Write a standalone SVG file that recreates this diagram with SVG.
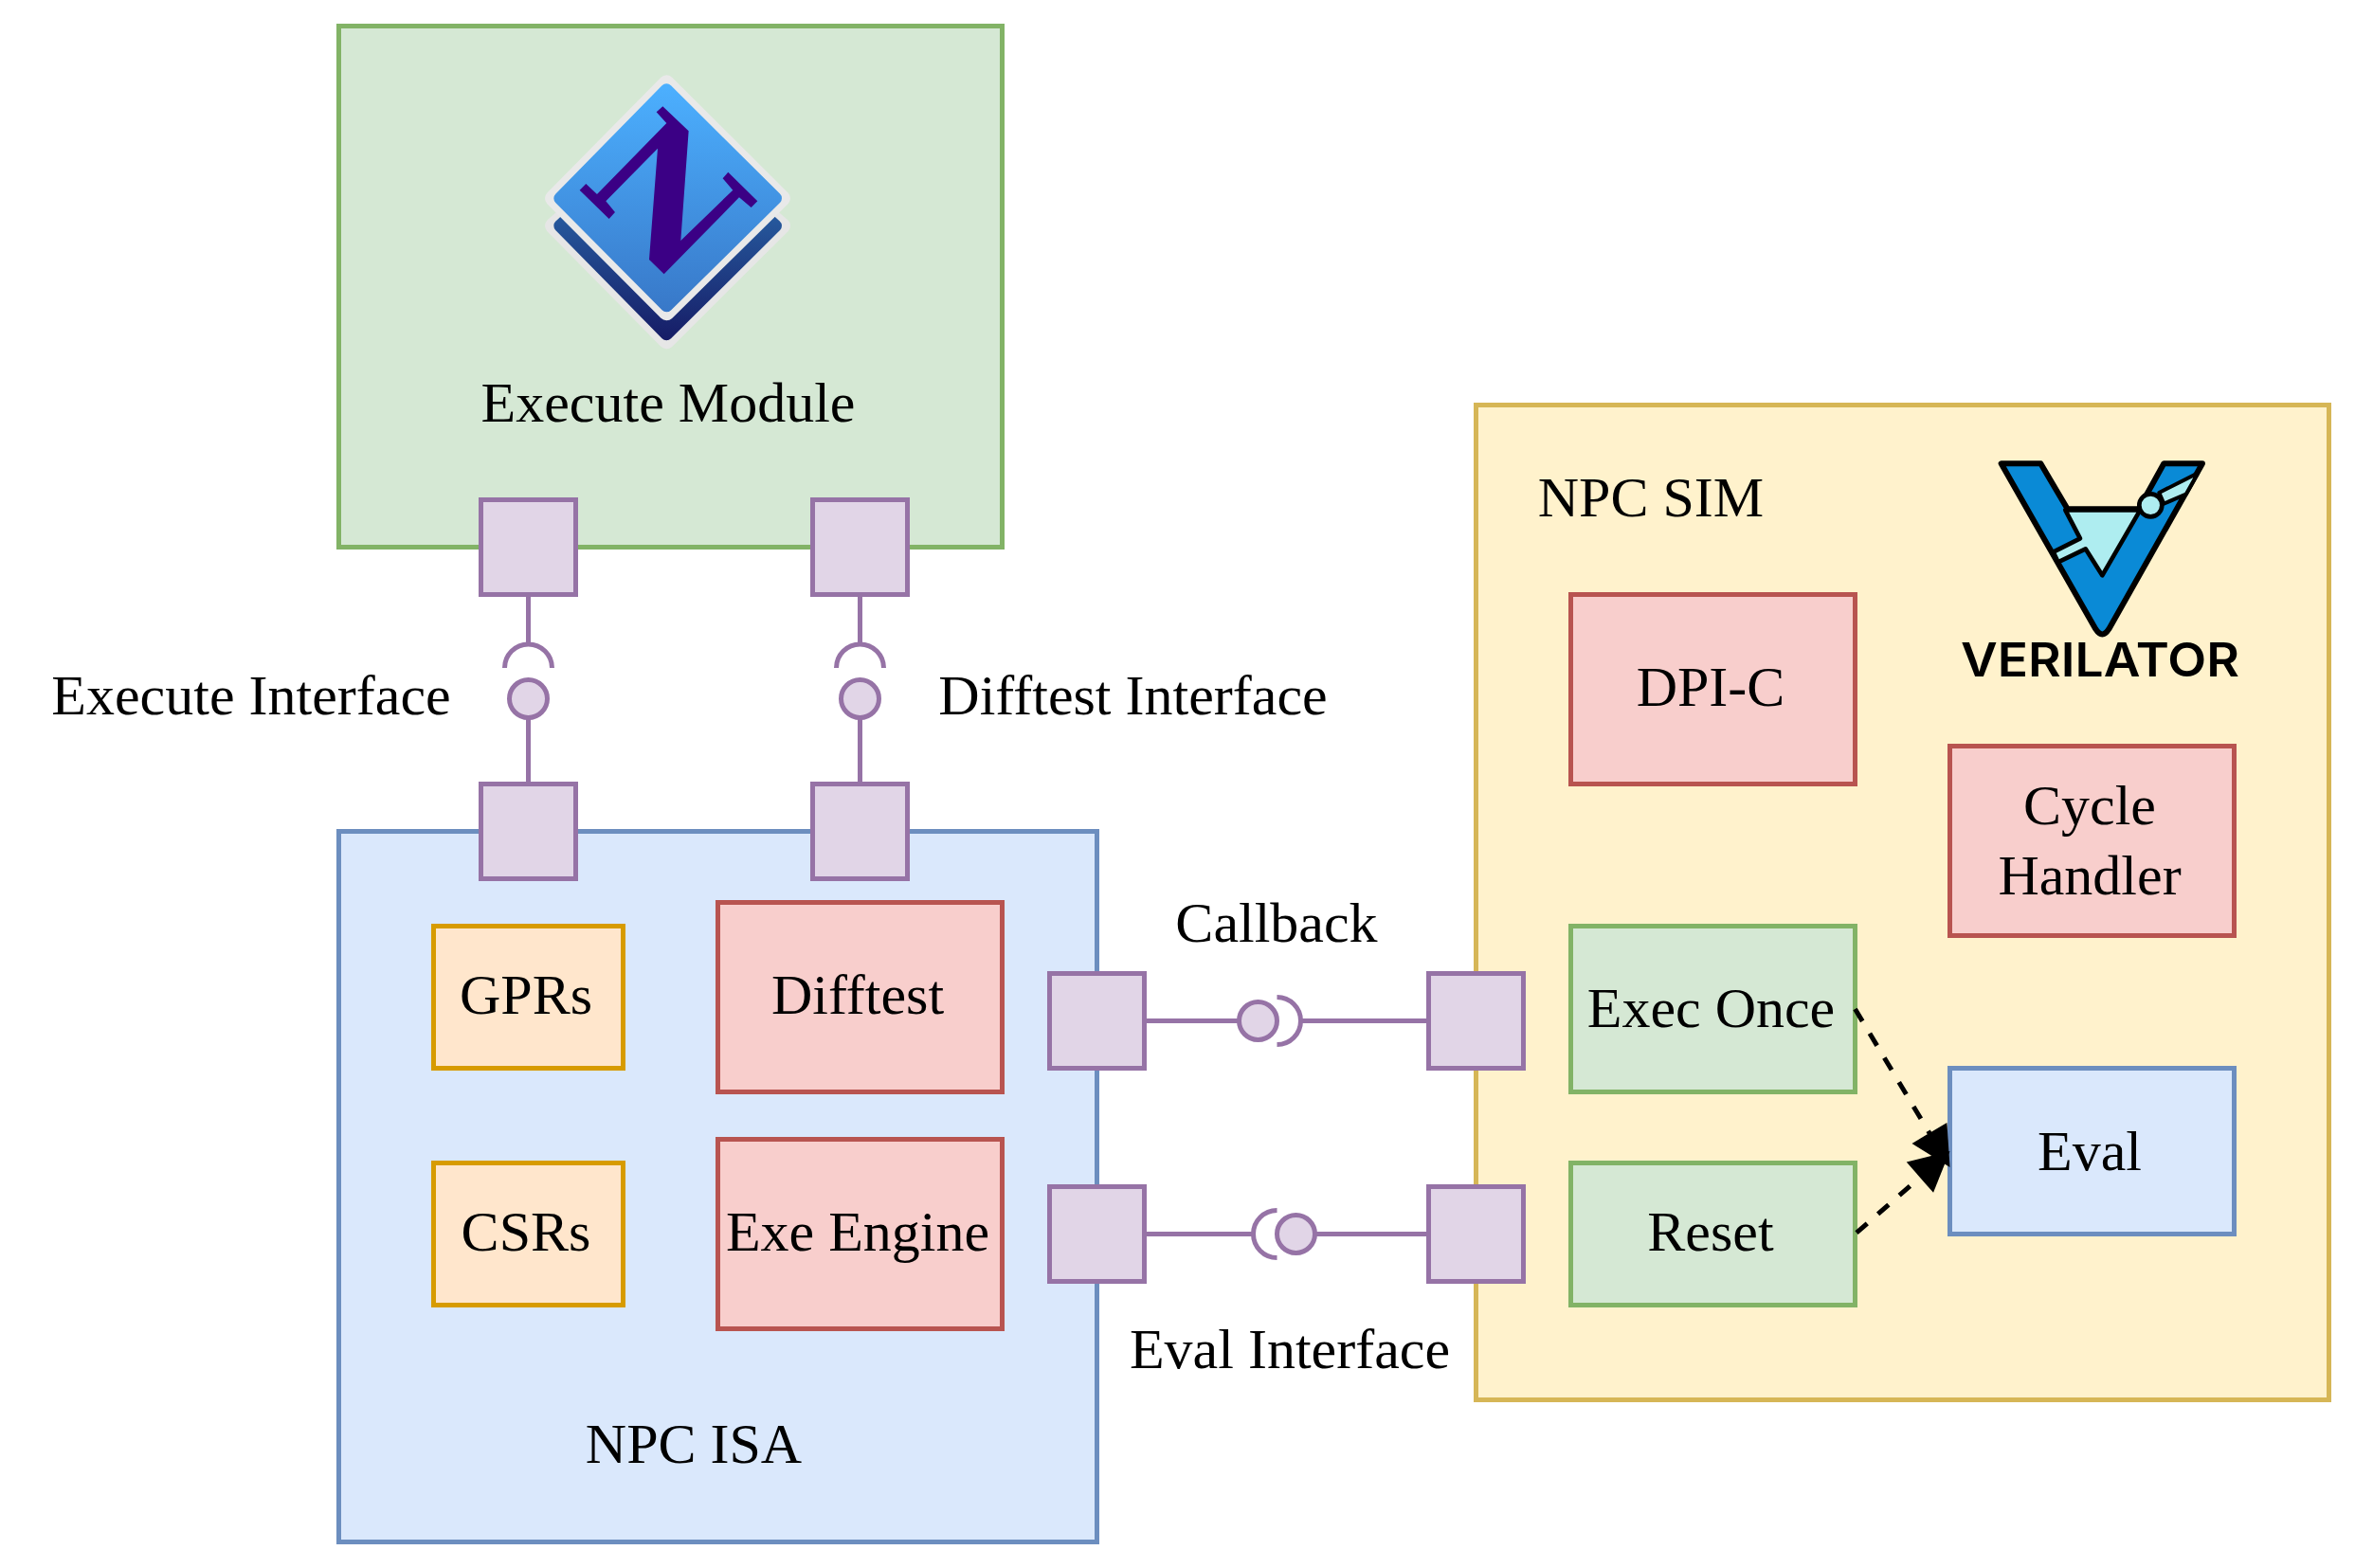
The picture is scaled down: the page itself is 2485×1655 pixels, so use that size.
<svg xmlns="http://www.w3.org/2000/svg" width="2485" height="1655" viewBox="0 0 2485 1655">
<style>
text{font-family:"Liberation Serif","Times New Roman",serif;font-size:60px;fill:#000;text-anchor:middle}
.g{fill:#d5e8d4;stroke:#82b366;stroke-width:5}
.b{fill:#dae8fc;stroke:#6c8ebf;stroke-width:5}
.y{fill:#fff2cc;stroke:#d6b656;stroke-width:5}
.r{fill:#f8cecc;stroke:#b85450;stroke-width:5}
.o{fill:#ffe6cc;stroke:#d79b00;stroke-width:5}
.p{fill:#e1d5e7;stroke:#9673a6;stroke-width:5}
.l{fill:none;stroke:#9673a6;stroke-width:5}
.d{fill:none;stroke:#000;stroke-width:5;stroke-dasharray:15 15;marker-end:url(#arrow)}
</style>
<defs>
<marker id="arrow" markerUnits="userSpaceOnUse" markerWidth="44" markerHeight="46" refX="32" refY="22.5" orient="auto" overflow="visible"><path d="M0 1L42 22.5L0 44Z" fill="#000"/></marker>
<linearGradient id="nTop" gradientUnits="userSpaceOnUse" x1="0" y1="115" x2="0" y2="838"><stop offset="0" stop-color="#4cb0ff"/><stop offset="1" stop-color="#3878c8"/></linearGradient>
<linearGradient id="nBot" gradientUnits="userSpaceOnUse" x1="0" y1="540" x2="0" y2="928"><stop offset="0" stop-color="#26589c"/><stop offset="1" stop-color="#161c66"/></linearGradient>
</defs>

<g id="execute-module"><rect class="g" x="357.5" y="27.5" width="700" height="550"/>
<g id="nemu-logo" transform="translate(540 50) scale(.3333)">
<path d="M490 250L857 565L490 930L130 565Z" fill="#e6e6e6" stroke="#e6e6e6" stroke-width="50" stroke-linejoin="round"/>
<path d="M490 250L835 565L490 908L153 565Z" fill="url(#nBot)" stroke="url(#nBot)" stroke-width="40" stroke-linejoin="round"/>
<path d="M490 113L857 478L490 840L130 478Z" fill="#e9e9e9" stroke="#e9e9e9" stroke-width="50" stroke-linejoin="round"/>
<path d="M490 135L835 478L490 818L153 478Z" fill="url(#nTop)" stroke="url(#nTop)" stroke-width="40" stroke-linejoin="round"/>
<path d="M458 205L478 187L560 265L535 612L700 452L668 415L685 395L778 487L758 507L720 475L482 718L435 672L462 320L298 487L327 522L308 543L215 452L235 432L270 465L490 240Z" fill="#3b0085"/>
</g>
<text x="705" y="445">Execute Module</text></g>

<g id="npc-isa"><rect class="b" x="357.5" y="877.5" width="800" height="750"/><text x="732" y="1544">NPC ISA</text></g>
<g id="npc-sim"><rect class="y" x="1557.5" y="427.5" width="900" height="1050"/><text x="1742" y="545">NPC SIM</text></g>

<g id="verilator-logo" transform="translate(2040 460) scale(.3333)">
<path d="M215 88L340 88L425 232L650 232L730 88L852 88L556 612Q535 645 514 612Z" fill="#0a8ad6" stroke="#000" stroke-width="18" stroke-linejoin="round"/>
<path d="M418 235L655 235L535 442L482 358L395 400L380 368L465 325Z" fill="#aeedf0" stroke="#000" stroke-width="14" stroke-linejoin="round"/>
<path d="M715 180L838 118L800 185L730 215Z" fill="#aeedf0" stroke="#000" stroke-width="12" stroke-linejoin="round"/>
<circle cx="688" cy="220" r="36" fill="#aeedf0" stroke="#000" stroke-width="14"/>
</g>
<text id="verilator-wordmark" x="2216" y="714" style="font-family:Inter,'Liberation Sans',Arial,sans-serif;font-weight:600;font-size:49px" textLength="294" lengthAdjust="spacingAndGlyphs">VERILATOR</text>

<g id="gprs"><rect class="o" x="457.5" y="977.5" width="200" height="150"/><text x="555" y="1070">GPRs</text></g>
<g id="csrs"><rect class="o" x="457.5" y="1227.5" width="200" height="150"/><text x="555" y="1320">CSRs</text></g>
<g id="difftest"><rect class="r" x="757.5" y="952.5" width="300" height="200"/><text x="905" y="1070">Difftest</text></g>
<g id="exe-engine"><rect class="r" x="757.5" y="1202.5" width="300" height="200"/><text x="905" y="1320">Exe Engine</text></g>
<g id="dpi-c"><rect class="r" x="1657.5" y="627.5" width="300" height="200"/><text x="1805" y="745">DPI-C</text></g>
<g id="cycle-handler"><rect class="r" x="2057.5" y="787.5" width="300" height="200"/><text x="2205" y="870">Cycle</text><text x="2205" y="944">Handler</text></g>
<g id="exec-once"><rect class="g" x="1657.5" y="977.5" width="300" height="175"/><text x="1805.5" y="1084">Exec Once</text></g>
<g id="reset"><rect class="g" x="1657.5" y="1227.5" width="300" height="150"/><text x="1805" y="1320">Reset</text></g>
<g id="eval"><rect class="b" x="2057.5" y="1127.5" width="300" height="175"/><text x="2205" y="1235">Eval</text></g>

<g id="connectors">
<path class="l" d="M557.5 627.5V680M532.5 705A25 25 0 0 1 582.5 705M557.5 757.5V827.5"/>
<path class="l" d="M907.5 627.5V680M882.5 705A25 25 0 0 1 932.5 705M907.5 757.5V827.5"/>
<path class="l" d="M1207.5 1077.5H1307.5M1347.5 1052.5A25 25 0 0 1 1347.5 1102.5M1372.5 1077.5H1507.5"/>
<path class="l" d="M1207.5 1302.5H1322.5M1347.5 1277.5A25 25 0 0 0 1347.5 1327.5M1387.5 1302.5H1507.5"/>
<path class="d" d="M1957.5 1065L2052.4 1223.4"/>
<path class="d" style="stroke-dashoffset:-2" d="M1957.5 1302.5L2050 1221.6"/>
</g>

<g id="ports">
<rect class="p" x="507.5" y="527.5" width="100" height="100"/>
<rect class="p" x="857.5" y="527.5" width="100" height="100"/>
<rect class="p" x="507.5" y="827.5" width="100" height="100"/>
<rect class="p" x="857.5" y="827.5" width="100" height="100"/>
<rect class="p" x="1107.5" y="1027.5" width="100" height="100"/>
<rect class="p" x="1107.5" y="1252.5" width="100" height="100"/>
<rect class="p" x="1507.5" y="1027.5" width="100" height="100"/>
<rect class="p" x="1507.5" y="1252.5" width="100" height="100"/>
</g>
<g id="interfaces">
<circle class="p" cx="557.5" cy="737.5" r="20"/>
<circle class="p" cx="907.5" cy="737.5" r="20"/>
<circle class="p" cx="1327.5" cy="1077.5" r="20"/>
<circle class="p" cx="1367.5" cy="1302.5" r="20"/>
</g>
<g id="labels">
<text x="265" y="754">Execute Interface</text>
<text x="1195.5" y="754">Difftest Interface</text>
<text x="1347" y="994">Callback</text>
<text x="1361" y="1444">Eval Interface</text>
</g>
</svg>
